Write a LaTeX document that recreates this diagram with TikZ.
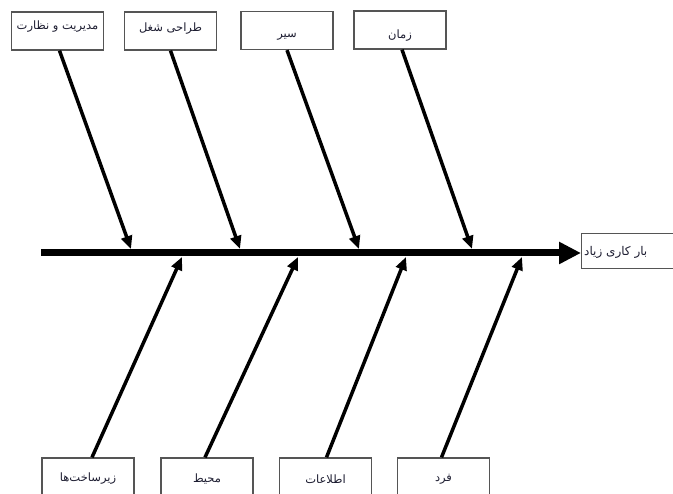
\documentclass[tikz,border=0pt]{standalone}
\usepackage{fontspec}
\newfontfamily\arabicfont[Script=Arabic]{DejaVu Sans}
\TeXXeTstate=1
\usetikzlibrary{arrows.meta}
\definecolor{boxgray}{RGB}{85,85,85}
\definecolor{txt}{RGB}{30,30,50}
\tikzset{
  x=1pt, y=-1pt,
  catbox/.style={draw=boxgray, line width=1.3pt, fill=white, minimum width=92pt, minimum height=38pt, inner sep=0pt, font=\arabicfont\fontsize{11.5}{13}\selectfont, text=txt},
  cattext/.style={font=\arabicfont\fontsize{11.5}{13}\selectfont, text=txt, inner sep=0pt},
  branch/.style={line width=3.5pt, -{Triangle[length=13pt,width=11pt]}},
  spine/.style={line width=7pt, -{Triangle[length=22pt,width=21pt]}},
}
\begin{document}
\begin{tikzpicture}
\useasboundingbox (0,0) rectangle (673,494);
% top boxes
\node[catbox] (b1) at (57.5,31) {};
\node[cattext] (b1t) at ([yshift=4pt]b1.center) {\beginR مدیریت و نظارت\endR};
\node[catbox] (b2) at (170.5,31) {};
\node[cattext] (b2t) at ([yshift=2pt]b2.center) {\beginR طراحی شغل\endR};
\node[catbox] (b3) at (287,30.5) {};
\node[cattext] (b3t) at ([yshift=-6pt]b3.center) {\beginR سیر\endR};
\node[catbox] (b4) at (400,30) {};
\node[cattext] (b4t) at ([yshift=-5.5pt]b4.center) {\beginR زمان\endR};
% bottom boxes
\node[catbox, minimum height=42pt] (c1) at (88,479) {\beginR زیرساخت‌ها\endR};
\node[catbox, minimum height=42pt] (c2) at (207,479) {\beginR محیط\endR};
\node[catbox, minimum height=42pt] (c3) at (325.5,479) {\beginR اطلاعات\endR};
\node[catbox, minimum height=42pt] (c4) at (443.5,479) {\beginR فرد\endR};
% effect box
\node[catbox, minimum width=120pt, minimum height=35pt, anchor=west] (rb) at (581,251) {};
\node[font=\arabicfont\fontsize{12}{14}\selectfont, text=txt, anchor=west, inner sep=0pt] (rt) at ([xshift=3pt,yshift=-1pt]rb.west) {\beginR بار کاری زیاد\endR};
% spine
\coordinate (s0) at (41,253);
\draw[spine] (s0) -- (rb.west |- s0);
% spine attachment points
\coordinate (t1) at (131,249);
\coordinate (t2) at (240,249);
\coordinate (t3) at (359,249);
\coordinate (t4) at (472,249);
\coordinate (u1) at (182,257);
\coordinate (u2) at (298,257);
\coordinate (u3) at (406,257);
\coordinate (u4) at (522,257);
% branches
\draw[branch] ([xshift=2pt]b1.south) -- (t1);
\draw[branch] (b2.south) -- (t2);
\draw[branch] (b3.south) -- (t3);
\draw[branch] ([xshift=2pt]b4.south) -- (t4);
\draw[branch] ([xshift=4pt]c1.north) -- (u1);
\draw[branch] ([xshift=-2pt]c2.north) -- (u2);
\draw[branch] ([xshift=1pt]c3.north) -- (u3);
\draw[branch] ([xshift=-2pt]c4.north) -- (u4);
\end{tikzpicture}
\end{document}
